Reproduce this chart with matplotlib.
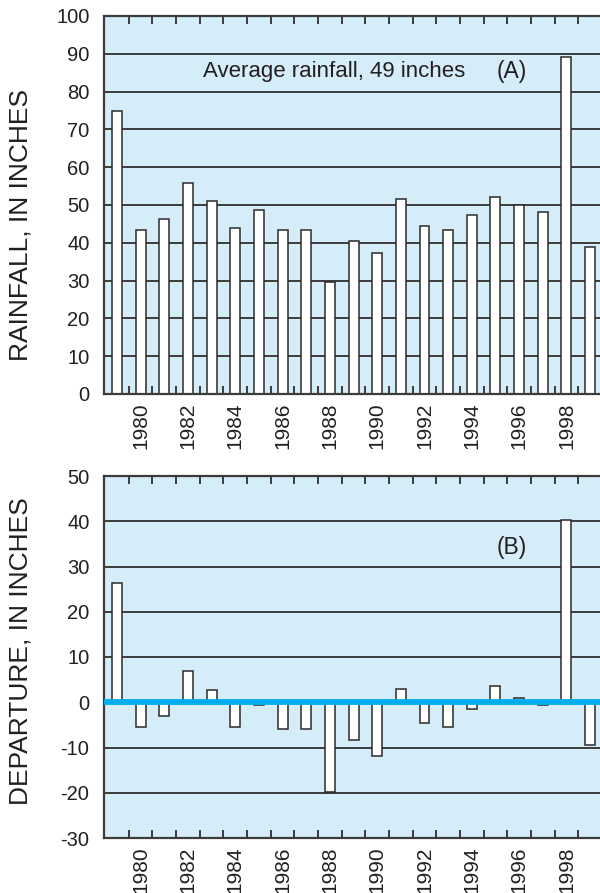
import matplotlib
matplotlib.use("Agg")
import matplotlib.pyplot as plt
import numpy as np

years = list(range(1979, 2000))
rainfall = [74.9, 43.4, 46.4, 55.9, 51.1, 44.0, 48.8, 43.4, 43.4, 29.7, 40.4,
            37.4, 51.7, 44.5, 43.4, 47.4, 52.2, 49.9, 48.2, 89.2, 39.0]
departure = [26.4, -5.4, -3.0, 7.0, 2.6, -5.4, -0.7, -6.0, -6.0, -19.9, -8.4,
             -11.9, 3.0, -4.5, -5.4, -1.6, 3.5, 1.0, -0.7, 40.3, -9.5]
year_labels = [str(y) for y in range(1980, 2000, 2)]
avg_text = "Average rainfall, 49 inches"

plt.rcParams['font.family'] = ['Liberation Sans', 'DejaVu Sans']
plt.rcParams['axes.unicode_minus'] = False
txt = '#231f20'
bg = '#d5ecf9'
grid_c = '#3c3c3c'
blue = '#00aeef'

fig = plt.figure(figsize=(6.0, 8.93), dpi=100)
W, H = 600, 893

def make_ax(top_px, bot_px):
    return fig.add_axes([104 / W, 1 - bot_px / H, 1 - 104 / W, (bot_px - top_px) / H])

axA = make_ax(16, 394)
axB = make_ax(476, 838)

xlim = (1978.45, 1999.42)
for ax in (axA, axB):
    ax.set_facecolor(bg)
    ax.set_xlim(*xlim)
    ax.spines['right'].set_visible(False)
    for s in ('left', 'top', 'bottom'):
        ax.spines[s].set_color(grid_c)
        ax.spines[s].set_linewidth(1.6)
    ax.set_xticks([int(l) for l in year_labels])
    ax.set_xticklabels(year_labels, rotation=90, fontsize=15, color=txt)
    ax.set_xticks([y + 0.5 for y in years[:-1]], minor=True)
    ax.tick_params(axis='x', which='major', length=0, pad=6)
    ax.tick_params(axis='x', which='minor', direction='in', length=5.5, width=1.4,
                   color=grid_c, top=True, bottom=True)
    ax.tick_params(axis='y', length=0, pad=10.5, labelsize=14.5, labelcolor=txt)
    ax.set_axisbelow(True)

# Panel A
axA.set_ylim(0, 100)
axA.set_yticks(range(0, 101, 10))
for v in range(10, 100, 10):
    axA.axhline(v, color=grid_c, lw=1.4, zorder=0.5)
axA.bar(years, rainfall, width=0.42, color='white', edgecolor='#2a2a2a', linewidth=1.1, zorder=2)
axA.text(1988.2, 85.2, avg_text, ha='center', va='center', fontsize=16, color=txt)
axA.text(1995.7, 85.2, "(A)", ha='center', va='center', fontsize=16.5, color=txt)
axA.set_ylabel("RAINFALL, IN INCHES", fontsize=19, color=txt)
axA.yaxis.set_label_coords(-0.145, 0.448)

# Panel B
axB.set_ylim(-30, 50)
axB.set_yticks(range(-30, 51, 10))
for v in range(-20, 50, 10):
    if v != 0:
        axB.axhline(v, color=grid_c, lw=1.4, zorder=0.5)
axB.bar(years, departure, width=0.42, color='white', edgecolor='#2a2a2a', linewidth=1.1, zorder=2)
axB.axhline(0, color=blue, lw=4.2, zorder=3)
axB.text(1995.7, 34.1, "(B)", ha='center', va='center', fontsize=16.5, color=txt)
axB.set_ylabel("DEPARTURE, IN INCHES", fontsize=19, color=txt)
axB.yaxis.set_label_coords(-0.145, 0.515)

fig.savefig("out.png", dpi=100)
